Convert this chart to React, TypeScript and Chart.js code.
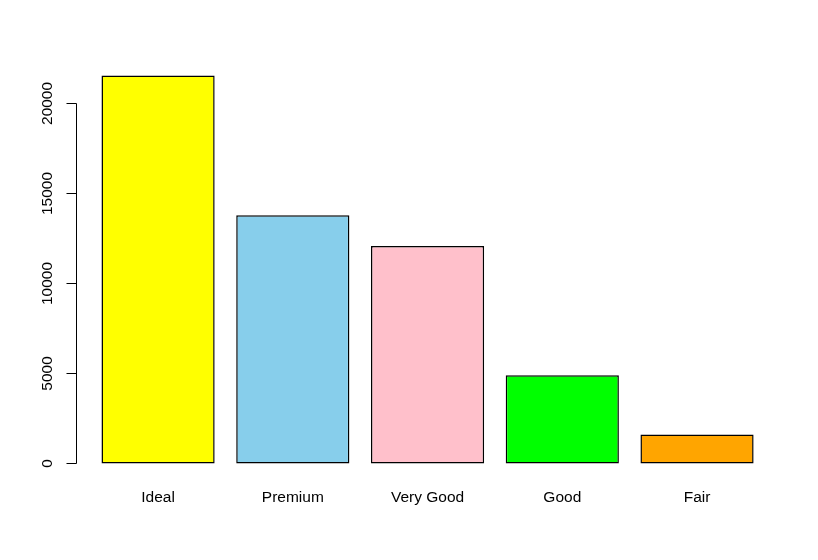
import React, { useEffect, useRef } from "react";
import { Chart, registerables } from "chart.js";

Chart.register(...registerables);

const categories = ["Ideal", "Premium", "Very Good", "Good", "Fair"];
const counts = [21551, 13791, 12082, 4906, 1610];
const barColors = ["#FFFF00", "#87CEEB", "#FFC0CB", "#00FF00", "#FFA500"];
const yTicks = [0, 5000, 10000, 15000, 20000];
const yTickLabels = ["0", "5000", "10000", "15000", "20000"];

const FONT = "'Liberation Sans', Arial, sans-serif";

const rAxisPlugin = {
  id: "rAxis",
  afterDraw(chart: any) {
    const ctx = chart.ctx;
    const y = chart.scales.y;
    const axisX = 76.5;
    ctx.save();
    ctx.strokeStyle = "#000";
    ctx.lineWidth = 1;
    ctx.beginPath();
    const top = Math.round(y.getPixelForValue(yTicks[yTicks.length - 1])) + 0.5;
    const bot = Math.round(y.getPixelForValue(yTicks[0])) + 0.5;
    ctx.moveTo(axisX, top);
    ctx.lineTo(axisX, bot);
    yTicks.forEach((v) => {
      const py = Math.round(y.getPixelForValue(v)) + 0.5;
      ctx.moveTo(axisX, py);
      ctx.lineTo(axisX - 10, py);
    });
    ctx.stroke();
    ctx.fillStyle = "#000";
    ctx.font = `15.5px ${FONT}`;
    ctx.textAlign = "center";
    ctx.textBaseline = "middle";
    yTicks.forEach((v, i) => {
      const py = y.getPixelForValue(v);
      ctx.save();
      ctx.translate(48, py);
      ctx.rotate(-Math.PI / 2);
      ctx.fillText(yTickLabels[i], 0, 0);
      ctx.restore();
    });
    ctx.restore();
  },
};

export default function App() {
  const ref = useRef<HTMLCanvasElement>(null);
  useEffect(() => {
    document.body.style.margin = "0";
    const chart = new Chart(ref.current!, {
      type: "bar",
      data: {
        labels: categories,
        datasets: [
          {
            data: counts,
            backgroundColor: barColors,
            borderColor: "#000",
            borderWidth: 1.5,
            borderSkipped: false,
            barPercentage: 0.84,
            categoryPercentage: 1,
          },
        ],
      },
      options: {
        animation: false,
        responsive: false,
        maintainAspectRatio: false,
        layout: { padding: { left: 90.7, right: 53.6, top: 60, bottom: 0 } },
        plugins: { legend: { display: false }, tooltip: { enabled: false } },
        scales: {
          x: {
            grid: { display: false, drawTicks: false },
            border: { display: false },
            ticks: {
              color: "#000",
              font: { family: FONT, size: 15.5 },
              padding: 9,
              maxRotation: 0,
              minRotation: 0,
            },
            afterFit: (scale: any) => {
              scale.height = 81;
            },
          },
          y: {
            display: false,
            min: -862,
            max: 22413,
          },
        },
      },
      plugins: [rAxisPlugin],
    });
    return () => chart.destroy();
  }, []);
  return (
    <div style={{ position: "absolute", left: 0, top: 0, width: 818, height: 560, background: "#fff" }}>
      <canvas ref={ref} width={818} height={560} style={{ width: 818, height: 560 }} />
    </div>
  );
}
